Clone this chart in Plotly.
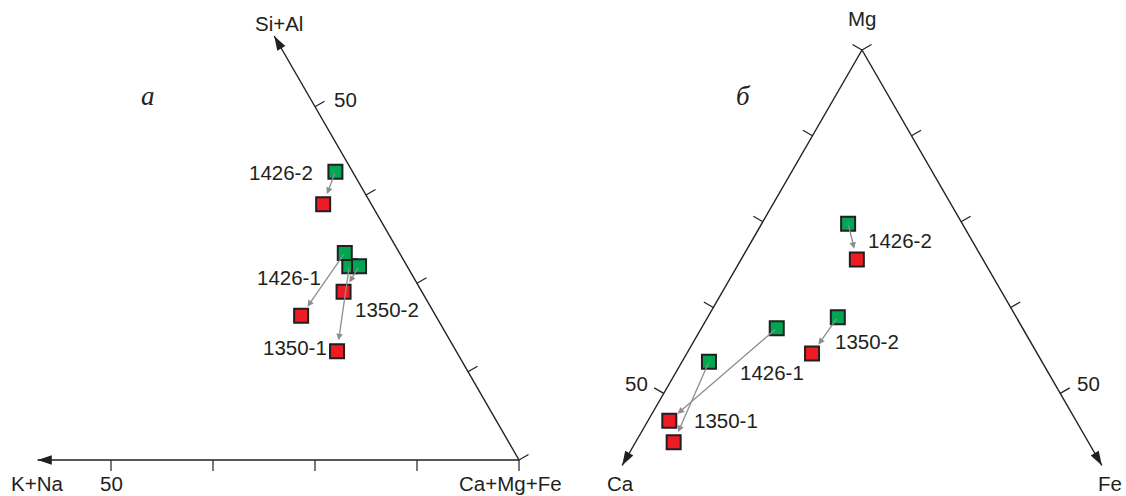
import math
import plotly.graph_objects as go

# ---------------- data ----------------
samples = ["1426-2", "1350-1", "1426-1", "1350-2"]

# Diagram а: K+Na – Si+Al – Ca+Mg+Fe (%); initial (green) -> altered (red)
a_kna_initial = [2.1, 7.1, 6.7, 5.9]
a_sial_initial = [40.8, 27.4, 29.3, 27.4]
a_cmf_initial = [57.1, 65.5, 64.0, 66.7]
a_kna_altered = [5.9, 14.6, 16.5, 9.6]
a_sial_altered = [36.2, 15.4, 20.4, 23.8]
a_cmf_altered = [57.9, 70.0, 63.1, 66.6]

# Diagram б: Ca – Mg – Fe (%); initial (green) -> altered (red)
b_ca_initial = [14.4, 42.0, 31.0, 22.5]
b_mg_initial = [74.7, 54.6, 59.5, 61.1]
b_fe_initial = [10.9, 3.4, 9.5, 16.4]
b_ca_altered = [15.9, 52.3, 51.3, 28.4]
b_mg_altered = [69.5, 42.9, 46.0, 55.8]
b_fe_altered = [14.6, 4.8, 2.7, 15.8]

tick_values = [0, 12.5, 25, 37.5, 50]
tick_label_value = 50
axis_extent_a = [59, 60]      # % reached by the axis arrows (K+Na, Si+Al)
axis_extent_b = [60.5, 60.5]  # % reached by the axis arrows (Ca, Fe)

# ---------------- geometry / style ----------------
W, H = 1126, 496
H3 = math.sqrt(3) / 2
A_VERTEX = (519, 460)
A_SIDE = 816
B_APEX = (862, 50)
B_SIDE = 793

INK = "#231f20"
GREEN = "#00a651"
RED = "#ed1c24"
GREY = "#8e8e8e"
FONT = "Liberation Sans, Arial, sans-serif"
TICK_LEN = 11


def tern_a(kna, sial, cmf):
    s = kna + sial + cmf
    x = A_VERTEX[0] - A_SIDE * (kna + 0.5 * sial) / s
    y = A_VERTEX[1] - A_SIDE * H3 * sial / s
    return x, y


def tern_b(ca, mg, fe):
    s = ca + mg + fe
    x = B_APEX[0] + 0.5 * B_SIDE * (fe - ca) / s
    y = B_APEX[1] + H3 * B_SIDE * (ca + fe) / s
    return x, y


fig = go.Figure()

# ---- axis lines ----
axes = [
    (tern_a(0, 0, 100), tern_a(axis_extent_a[0], 0, 100 - axis_extent_a[0]), -90),
    (tern_a(0, 0, 100), tern_a(0, axis_extent_a[1], 100 - axis_extent_a[1]), -30),
    (tern_b(0, 100, 0), tern_b(axis_extent_b[0], 100 - axis_extent_b[0], 0), 210),
    (tern_b(0, 100, 0), tern_b(0, 100 - axis_extent_b[1], axis_extent_b[1]), 150),
]
lx, ly = [], []
for p0, p1, _ in axes:
    lx += [p0[0], p1[0], None]
    ly += [p0[1], p1[1], None]
fig.add_trace(go.Scatter(x=lx, y=ly, mode="lines", line=dict(color=INK, width=1.4),
                         hoverinfo="skip", showlegend=False))
fig.add_trace(go.Scatter(
    x=[a[1][0] for a in axes], y=[a[1][1] for a in axes], mode="markers",
    marker=dict(symbol="arrow", size=15, angle=[a[2] for a in axes], color=INK,
                line=dict(width=0)),
    hoverinfo="skip", showlegend=False))

# ---- ticks ----
tick_sets = [
    (lambda t: tern_a(t, 0, 100 - t), (0, 1)),
    (lambda t: tern_a(0, t, 100 - t), (H3, -0.5)),
    (lambda t: tern_b(t, 100 - t, 0), (-H3, -0.5)),
    (lambda t: tern_b(0, 100 - t, t), (H3, -0.5)),
]
tx, ty = [], []
label_pts = []
for fn, (nx, ny) in tick_sets:
    for t in tick_values:
        px, py = fn(t)
        ex, ey = px + nx * TICK_LEN, py + ny * TICK_LEN
        tx += [px, ex, None]
        ty += [py, ey, None]
        if t == tick_label_value:
            label_pts.append((ex, ey))
fig.add_trace(go.Scatter(x=tx, y=ty, mode="lines", line=dict(color=INK, width=1.2),
                         hoverinfo="skip", showlegend=False))

# ---- data points ----
a_init = [tern_a(*v) for v in zip(a_kna_initial, a_sial_initial, a_cmf_initial)]
a_alt = [tern_a(*v) for v in zip(a_kna_altered, a_sial_altered, a_cmf_altered)]
b_init = [tern_b(*v) for v in zip(b_ca_initial, b_mg_initial, b_fe_initial)]
b_alt = [tern_b(*v) for v in zip(b_ca_altered, b_mg_altered, b_fe_altered)]

for pts, col in [(a_alt, RED), (b_alt, RED), (a_init, GREEN), (b_init, GREEN)]:
    fig.add_trace(go.Scatter(
        x=[p[0] for p in pts], y=[p[1] for p in pts], mode="markers",
        text=samples,
        marker=dict(symbol="square", size=14, color=col, line=dict(color=INK, width=2)),
        hoverinfo="text", showlegend=False))

annotations = []
# arrows initial -> altered
for src, dst in [(a_init, a_alt), (b_init, b_alt)]:
    for p0, p1 in zip(src, dst):
        annotations.append(dict(
            x=p1[0], y=p1[1], ax=p0[0], ay=p0[1], xref="x", yref="y",
            axref="x", ayref="y", text="", showarrow=True, arrowhead=2,
            arrowsize=1.0, arrowwidth=1.3, arrowcolor=GREY, standoff=11))

# ---- texts ----
def txt(x, y, s, anchor="center", size=20.5, family=FONT):
    annotations.append(dict(x=x, y=y, xref="x", yref="y", text=s, showarrow=False,
                            xanchor=anchor, yanchor="middle",
                            font=dict(family=family, size=size, color=INK)))


# axis titles
txt(37, 483, "K+Na")
txt(510, 483, "Ca+Mg+Fe")
txt(279, 23, "Si+Al")
txt(862, 18, "Mg")
txt(620, 483, "Ca")
txt(1110, 483, "Fe")

# tick labels "50"
(la_b, la_s, lb_l, lb_r) = label_pts
txt(la_b[0], la_b[1] + 12, "50")
txt(la_s[0] + 7, la_s[1] - 2, "50", anchor="left")
txt(lb_l[0] - 4, lb_l[1] - 4, "50", anchor="right")
txt(lb_r[0] + 5, lb_r[1] - 4, "50", anchor="left")

# panel letters
txt(148, 96, "<i>а</i>", size=27, family="Liberation Serif, Times New Roman, serif")
txt(743, 96, "<i>б</i>", size=27, family="Liberation Serif, Times New Roman, serif")

# sample labels (panel а)
txt(315, 172, "1426-2", anchor="right")
txt(323, 277, "1426-1", anchor="right")
txt(353, 309, "1350-2", anchor="left")
txt(329, 347, "1350-1", anchor="right")
# sample labels (panel б)
txt(866, 240, "1426-2", anchor="left")
txt(738, 372, "1426-1", anchor="left")
txt(833, 341, "1350-2", anchor="left")
txt(692, 420, "1350-1", anchor="left")

fig.update_layout(
    width=W, height=H, margin=dict(l=0, r=0, t=0, b=0),
    paper_bgcolor="white", plot_bgcolor="white",
    xaxis=dict(range=[0, W], visible=False, fixedrange=True),
    yaxis=dict(range=[H, 0], visible=False, fixedrange=True),
    annotations=annotations, showlegend=False,
)

fig.write_html(
    "out.html",
    config={"displayModeBar": False},
    post_script="document.body.style.margin='0';document.body.style.padding='0';"
                "document.body.style.overflow='hidden';",
)
